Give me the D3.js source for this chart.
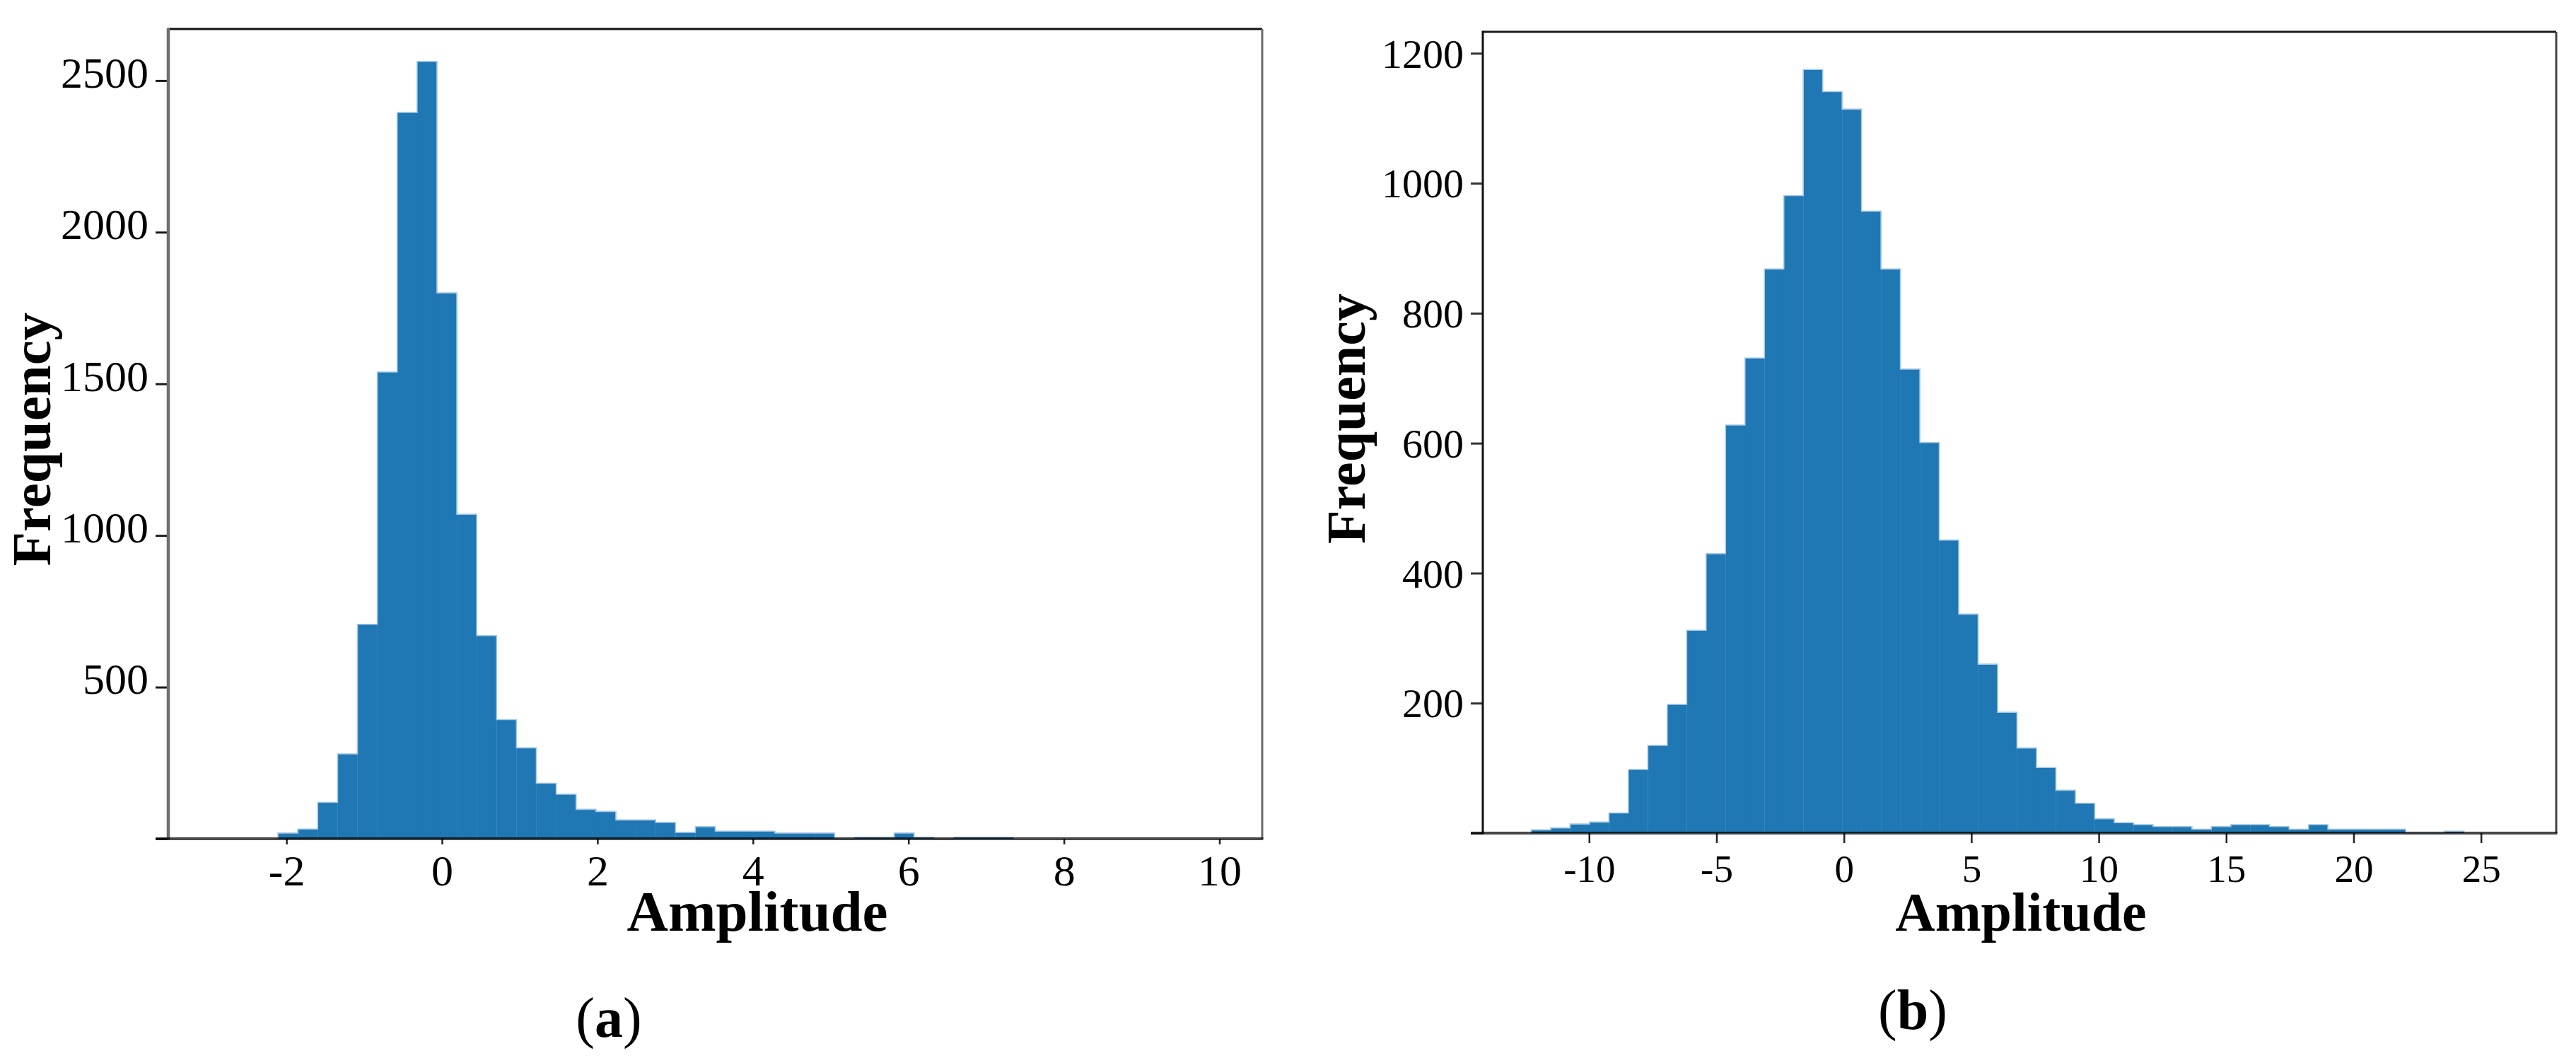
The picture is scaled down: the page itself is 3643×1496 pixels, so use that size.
<!DOCTYPE html>
<html lang="en">
<head>
    <meta charset="UTF-8">
    <title>Amplitude histograms (a) and (b)</title>
    <script src="https://d3js.org/d3.v7.min.js"></script>
    <style>
        body { margin: 0; background: #fff; }
        svg text { font-family: "Liberation Serif", "Times New Roman", serif; fill: #000; }
        .axis-title { font-weight: bold; }
    </style>
</head>
<body>
    <svg width="3643" height="1496"></svg>

    <script>
        // Histogram (a): bin start, bin width and counts
        const binStartA = -2.11;
        const binWidthA = 0.2557;
        const countsA = [19, 32, 120, 280, 707, 1539, 2395, 2563, 1800, 1070,
                         670, 393, 300, 183, 147, 97, 90, 62, 62, 54,
                         21, 40, 25, 25, 25, 19, 19, 19, 0, 5,
                         5, 19, 5, 0, 5, 5, 5];
        const xTicksA = [-2, 0, 2, 4, 6, 8, 10];
        const yTicksA = [0, 500, 1000, 1500, 2000, 2500];

        // Histogram (b)
        const binStartB = -12.27;
        const binWidthB = 0.7625;
        const countsB = [5, 8, 14, 17, 31, 98, 135, 198, 312, 430,
                         628, 731, 868, 981, 1175, 1141, 1114, 957, 868, 714,
                         601, 451, 337, 260, 186, 131, 101, 66, 46, 22,
                         16, 13, 10, 10, 6, 10, 13, 13, 10, 6,
                         13, 6, 6, 6, 6, 0, 0, 3];
        const xTicksB = [-10, -5, 0, 5, 10, 15, 20, 25];
        const yTicksB = [0, 200, 400, 600, 800, 1000, 1200];

        const svg = d3.select("svg");
        const barColor = "#1f77b4";
        const edgeColor = "#a6c8e3";

        function toBins(start, width, counts) {
            return counts.map((c, i) => ({ x0: start + i * width, x1: start + (i + 1) * width, count: c }));
        }

        function drawPanel(p) {
            const bins = toBins(p.binStart, p.binWidth, p.counts);
            const x = d3.scaleLinear().domain(p.xDomain).range([p.left, p.right]);
            const y = d3.scaleLinear().domain(p.yDomain).range([p.bottom, p.top]);
            const g = svg.append("g");

            // bars
            g.selectAll("rect.bar")
                .data(bins.filter(d => d.count > 0))
                .join("rect")
                .attr("class", "bar")
                .attr("x", d => x(d.x0))
                .attr("width", d => x(d.x1) - x(d.x0) + 0.3)
                .attr("y", d => y(d.count))
                .attr("height", d => y(0) - y(d.count))
                .attr("fill", barColor);

            // light outline of the histogram (step path)
            const pts = [{ x: bins[0].x0, c: 0 }]
                .concat(bins.map(d => ({ x: d.x0, c: d.count })))
                .concat([{ x: bins[bins.length - 1].x1, c: bins[bins.length - 1].count },
                         { x: bins[bins.length - 1].x1, c: 0 }]);
            g.append("path")
                .datum(pts)
                .attr("fill", "none")
                .attr("stroke", edgeColor)
                .attr("stroke-width", 1.6)
                .attr("d", d3.line().x(d => x(d.x)).y(d => y(d.c)).curve(d3.curveStepAfter));

            // axes
            const yAxis = g.append("g")
                .attr("transform", `translate(${p.left},0)`)
                .call(d3.axisLeft(y).tickValues(p.yTicks).tickSize(p.yTickLen).tickPadding(p.yPad)
                    .tickFormat(d => d === 0 ? "" : d));
            yAxis.select(".domain").remove();
            yAxis.selectAll(".tick line").attr("stroke", p.yTickColor).attr("stroke-width", 3);
            yAxis.selectAll(".tick text")
                .style("font-size", p.yFont + "px")
                .attr("dy", p.yDy);

            const xAxis = g.append("g")
                .attr("transform", `translate(0,${p.bottom})`)
                .call(d3.axisBottom(x).tickValues(p.xTicks).tickSize(p.xTickLen).tickFormat(d => d));
            xAxis.select(".domain").remove();
            xAxis.selectAll(".tick line").attr("stroke", "#222").attr("stroke-width", 2.5);
            xAxis.selectAll(".tick text")
                .style("font-size", p.xFont + "px")
                .attr("y", p.xLabelBase)
                .attr("dy", 0);

            // frame
            g.append("line").attr("x1", p.left).attr("x2", p.right).attr("y1", p.top).attr("y2", p.top)
                .attr("stroke", p.topColor).attr("stroke-width", 3);
            g.append("line").attr("x1", p.right).attr("x2", p.right).attr("y1", p.top).attr("y2", p.bottom)
                .attr("stroke", p.rightColor).attr("stroke-width", 3);
            g.append("line").attr("x1", p.left).attr("x2", p.left).attr("y1", p.top - 1.5).attr("y2", p.bottom + 1.5)
                .attr("stroke", p.leftColor).attr("stroke-width", p.leftWidth);
            g.append("line").attr("x1", p.left - p.yTickLen).attr("x2", p.right + 1.5).attr("y1", p.bottom).attr("y2", p.bottom)
                .attr("stroke", "#000").attr("stroke-opacity", 0.72).attr("stroke-width", 4);

            // titles
            g.append("text").attr("class", "axis-title")
                .attr("x", p.xTitleX).attr("y", p.xTitleY)
                .attr("text-anchor", "middle")
                .style("font-size", p.titleFont + "px")
                .text("Amplitude");
            g.append("text").attr("class", "axis-title")
                .attr("transform", `translate(${p.yTitleX},${p.yTitleY}) rotate(-90)`)
                .attr("text-anchor", "middle")
                .style("font-size", p.yTitleFont + "px")
                .text("Frequency");

            const cap = g.append("text")
                .attr("x", p.capX).attr("y", p.capY)
                .attr("text-anchor", "middle")
                .style("font-size", "80px");
            cap.append("tspan").text("(");
            cap.append("tspan").attr("font-weight", "bold").text(p.caption);
            cap.append("tspan").text(")");
        }

        drawPanel({
            binStart: binStartA, binWidth: binWidthA, counts: countsA,
            xTicks: xTicksA, yTicks: yTicksA,
            xDomain: [-3.52, 10.55], yDomain: [0, 2670],
            left: 238, right: 1785, top: 41, bottom: 1186,
            yTickLen: 18, yPad: 10, yFont: 62, yDy: "0.15em", yTickColor: "#1a1a1a",
            xTickLen: 8, xFont: 62, xLabelBase: 66,
            topColor: "#111", rightColor: "#6a6a6a", leftColor: "#6e6e6e", leftWidth: 4.5,
            titleFont: 81, yTitleFont: 79, xTitleX: 1071, xTitleY: 1316, yTitleX: 71, yTitleY: 621,
            caption: "a", capX: 861, capY: 1466
        });

        drawPanel({
            binStart: binStartB, binWidth: binWidthB, counts: countsB,
            xTicks: xTicksB, yTicks: yTicksB,
            xDomain: [-14.17, 27.95], yDomain: [0, 1233],
            left: 2097, right: 3615, top: 45, bottom: 1178,
            yTickLen: 17, yPad: 10, yFont: 58, yDy: "0.34em", yTickColor: "#333",
            xTickLen: 14, xFont: 55, xLabelBase: 69,
            topColor: "#1a1a1a", rightColor: "#444", leftColor: "#111", leftWidth: 3,
            titleFont: 78, yTitleFont: 78, xTitleX: 2858, xTitleY: 1316, yTitleX: 1930, yTitleY: 592,
            caption: "b", capX: 2705, capY: 1455
        });
    </script>
</body>
</html>
